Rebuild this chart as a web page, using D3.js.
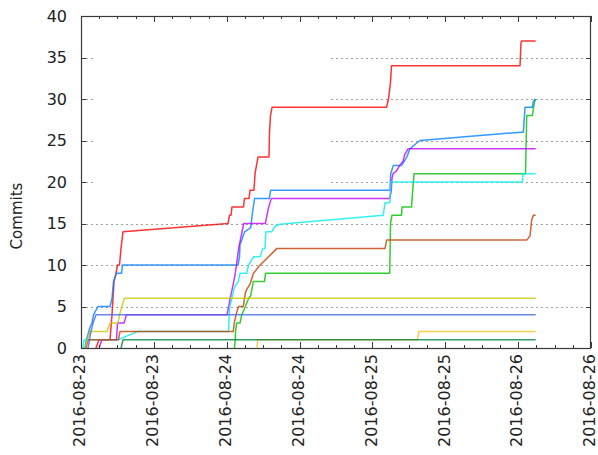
<!DOCTYPE html>
<html><head><meta charset="utf-8">
<script src="https://cdn.jsdelivr.net/npm/d3@7"></script>
<style>
body{margin:0;background:#fff}
svg{display:block}
text{font-family:"DejaVu Sans",sans-serif;fill:#222}
</style>
</head><body>
<svg id="chart" width="598" height="455"></svg>
<script>
// ---- data: [hours since 2016-08-23 00:00 UTC, cumulative commits] ----
const startTime = "2016-08-23T00:00:00Z";
const endTime   = "2016-08-26T12:00:00Z";
const yTickValues = [0, 5, 10, 15, 20, 25, 30, 35, 40];
const gridValues  = [5, 10, 15, 20, 25, 30, 35];
const yLabel = "Commits";

const authorRed = [[2.47,0],[2.96,1],[4.78,1],[5.11,4],[5.44,8],[5.76,9],[6.01,10],[6.34,10],[6.59,12],[6.75,13],[6.92,14],[24.21,15],[24.46,16],[24.71,16],[24.87,17],[26.76,17],[26.93,18],[27.67,18],[27.84,19],[28.49,19],[28.66,21],[28.91,22],[29.15,23],[30.96,23],[31.05,26],[31.21,28],[31.46,29],[31.71,29],[50.32,29],[50.65,30],[50.98,32],[51.14,34],[72.31,34],[72.47,36.8],[72.6,37],[74.89,37]];
const authorGreen = [[25.28,0],[25.41,1],[25.45,2],[25.64,3],[26.19,3],[26.47,4],[26.85,4.6],[27.62,6],[27.95,6.3],[28.38,8],[30.22,8],[30.39,9],[50.85,9],[50.98,15],[51.22,16],[52.79,16],[52.87,17],[54.44,17],[54.85,21],[73.21,21],[73.41,28],[74.33,28],[74.66,29.5],[74.86,30]];
const authorBlue = [[0.66,0],[0.91,1],[1.48,2.5],[1.81,3],[2.06,4],[2.80,5],[4.78,5],[5.11,6],[5.35,8],[5.85,9],[6.67,9],[6.84,10],[25.86,10],[26.11,11],[26.19,12.5],[26.47,13],[26.95,14],[27.95,14.5],[28.28,16.5],[28.58,18],[31.01,18],[31.24,19],[50.89,19],[51.01,21],[51.44,22],[52.82,22],[53.65,23],[54.19,24],[55.29,24.7],[55.84,25],[72.47,26],[72.85,26],[73.01,27.6],[73.13,29],[74.33,29],[74.5,29.7],[74.86,30]];
const authorMagenta = [[2.96,0],[3.46,1],[5.85,1],[6.01,3],[7.08,3],[7.49,4],[24.05,4],[24.33,5],[24.59,6],[24.87,7],[25.15,8],[25.41,9],[25.69,10.5],[25.97,12],[26.24,13],[26.52,14],[26.80,15],[30.36,15],[30.63,16],[30.92,17],[31.34,18],[50.85,18],[51.11,19],[51.22,20.4],[51.39,21],[51.93,21.3],[52.49,22],[53.04,22.5],[53.32,23.3],[53.86,24],[74.89,24]];
const authorCyan = [[0.33,0],[0.49,1],[6.09,1],[9.39,2],[24.29,2],[24.5,5],[24.87,6],[25.15,7],[25.4,7.5],[25.91,8],[26.19,9],[27.29,9],[27.6,10],[28.45,11],[29.48,11],[29.98,12],[30.3,12],[30.45,14],[31.4,14],[32.0,14.7],[32.78,14.9],[34.14,15],[49.79,16],[50.07,17.5],[50.85,17.5],[51.06,20],[72.72,20],[72.80,21],[74.89,21]];
const authorBrown = [[0.82,0],[1.15,1],[6.18,1],[6.42,2],[25.08,2],[25.25,3],[25.53,4],[25.94,5],[26.73,5],[27.09,6.7],[27.26,7],[27.89,7.8],[28.41,9],[29.48,10],[29.81,10.2],[30.88,11],[31.46,11.4],[32.28,12],[50.07,12],[50.35,13],[73.41,13],[73.95,13.5],[74.23,15.4],[74.5,16],[74.89,16]];
const authorYellow = [[0.66,0],[1.48,2],[4.28,2],[4.78,3],[6.09,3],[6.42,4.2],[6.97,5.6],[7.13,6],[74.89,6]];
const authorRoyal = [[1.15,0],[1.65,2],[1.98,3],[2.47,4],[74.89,4]];
const authorOrange = [[28.99,0],[29.07,1],[55.39,1],[55.67,2],[74.89,2]];
const authorSeagreen = [[6.59,0],[6.92,1],[74.89,1]];

const seriesList = [authorRed, authorGreen, authorBlue, authorMagenta, authorCyan, authorBrown, authorYellow, authorRoyal, authorOrange, authorSeagreen];
const seriesColors = ["#ff0000","#00c000","#0080ff","#c000ff","#00eeee","#c04000","#c8c800","#4169e1","#ffc020","#008040"];

// ---- layout ----
const W = 598, H = 455;
const M = {left: 81, right: 7, top: 16, bottom: 107};
const svg = d3.select("#chart");
const t0 = new Date(startTime), t1 = new Date(endTime);
const x = d3.scaleUtc().domain([t0, t1]).range([M.left, W - M.right]);
const y = d3.scaleLinear().domain([0, 40]).range([H - M.bottom, M.top]);
const toDate = h => new Date(t0.getTime() + h * 3600000);

// grid
const grid = svg.append("g");
grid.selectAll("line").data(gridValues).join("line")
  .attr("x1", M.left).attr("x2", W - M.right)
  .attr("y1", d => Math.round(y(d)) + 0.5).attr("y2", d => Math.round(y(d)) + 0.5)
  .attr("stroke", "#a0a0a0").attr("stroke-width", 1).attr("stroke-dasharray", "2,3");

// opaque (empty) key box area
svg.append("rect").attr("x", 93).attr("y", 20).attr("width", 237).attr("height", 180).attr("fill", "#fff");

// data lines
const line = d3.line().x(d => x(toDate(d[0]))).y(d => y(d[1]));
svg.append("g").selectAll("path").data(seriesList).join("path")
  .attr("d", line)
  .attr("fill", "none")
  .attr("stroke", (d, i) => seriesColors[i])
  .attr("stroke-opacity", 0.8)
  .attr("stroke-width", 1.5)
  .attr("stroke-linejoin", "round");

// border
const bx0 = M.left, bx1 = W - M.right, by0 = M.top, by1 = H - M.bottom;
svg.append("rect").attr("x", bx0 + 0.5).attr("y", by0 + 0.5)
  .attr("width", bx1 - bx0 - 1).attr("height", by1 - by0)
  .attr("fill", "none").attr("stroke", "#3a3a3a").attr("stroke-width", 1.2);

// ticks
const majorTicks = d3.utcHour.every(12).range(t0, new Date(t1.getTime() + 1));
const minorTicks = d3.utcHour.every(3).range(t0, new Date(t1.getTime() + 1));
const tg = svg.append("g").attr("stroke", "#3a3a3a").attr("stroke-width", 1);
minorTicks.forEach(t => {
  const xx = Math.round(x(t)) + 0.5;
  const len = (t.getUTCHours() % 12 === 0) ? 6 : 3;
  tg.append("line").attr("x1", xx).attr("x2", xx).attr("y1", by1).attr("y2", by1 - len);
  tg.append("line").attr("x1", xx).attr("x2", xx).attr("y1", by0).attr("y2", by0 + len);
});
yTickValues.forEach(v => {
  const yy = Math.round(y(v)) + 0.5;
  tg.append("line").attr("x1", bx0).attr("x2", bx0 + 5).attr("y1", yy).attr("y2", yy);
  tg.append("line").attr("x1", bx1).attr("x2", bx1 - 5).attr("y1", yy).attr("y2", yy);
});

// y tick labels
svg.append("g").selectAll("text").data(yTickValues).join("text")
  .attr("x", 67).attr("y", d => y(d)).attr("dy", "0.36em")
  .attr("text-anchor", "end").attr("font-size", 16).text(d => d);

// x tick labels
const fmt = d3.utcFormat("%Y-%m-%d");
svg.append("g").selectAll("text").data(majorTicks).join("text")
  .attr("transform", d => `translate(${x(d) - 1.5},${by1 + 6}) rotate(-90)`)
  .attr("dy", "0.36em")
  .attr("text-anchor", "end").attr("font-size", 16).text(d => fmt(d));

// y axis label
svg.append("text")
  .attr("transform", `translate(17,216) rotate(-90)`)
  .attr("dy", "0.36em")
  .attr("text-anchor", "middle").attr("font-size", 15).text(yLabel);
</script>
</body></html>
